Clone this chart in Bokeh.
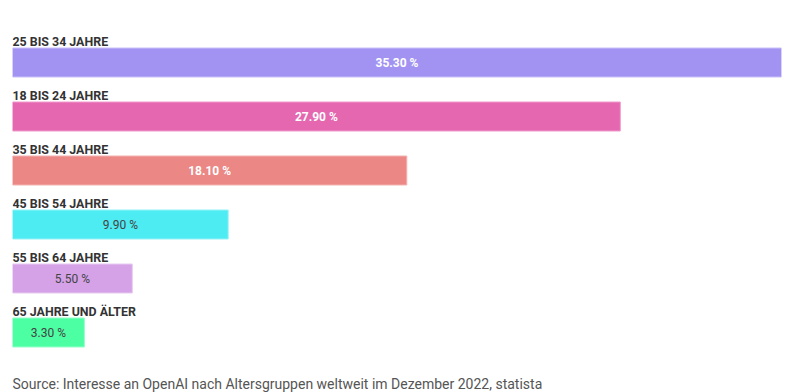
from bokeh.plotting import figure
from bokeh.models import Range1d, ColumnDataSource
from bokeh.core.properties import value
from bokeh.embed import file_html
from bokeh.resources import INLINE

categories = ["25 BIS 34 JAHRE", "18 BIS 24 JAHRE", "35 BIS 44 JAHRE",
              "45 BIS 54 JAHRE", "55 BIS 64 JAHRE", "65 JAHRE UND ÄLTER"]
shares = [35.3, 27.9, 18.1, 9.9, 5.5, 3.3]
value_labels = ["35.30 %", "27.90 %", "18.10 %", "9.90 %", "5.50 %", "3.30 %"]
bar_colors = ["#A293F3", "#E467B0", "#EB8785", "#4DEBF2", "#D5A2E8", "#4CFFA3"]
border_colors = ["#C9C0F8", "#F09BCB", "#F3B3B1", "#94F3F7", "#E7CBF1", "#94FFC8"]
label_colors = ["#FFFFFF", "#FFFFFF", "#FFFFFF", "#444444", "#444444", "#444444"]
label_styles = ["bold", "bold", "bold", "normal", "normal", "normal"]
source_text = "Source: Interesse an OpenAI nach Altersgruppen weltweit im Dezember 2022, statista"

W, H = 796, 392
TOP = 8
px_per_unit = 54.0
y_top = -1.0
y_bottom = y_top + (H - TOP) / px_per_unit

idx = list(range(len(categories)))
src = ColumnDataSource(dict(
    y=idx, right=shares, mid=[s / 2 for s in shares], cat=categories,
    vl=value_labels, fill=bar_colors, line=border_colors,
    lc=label_colors, ls=label_styles,
))

p = figure(width=W, height=H, output_backend="svg", toolbar_location=None,
           x_range=Range1d(0, 35.3), y_range=Range1d(y_bottom, y_top),
           min_border_left=12, min_border_right=15, min_border_top=TOP, min_border_bottom=0)
p.axis.visible = False
p.grid.visible = False
p.outline_line_color = None
p.background_fill_color = "white"
p.border_fill_color = "white"

p.hbar(y="y", left=0, right="right", height=29 / px_per_unit, source=src,
       fill_color="fill", line_color="line", line_width=1)

p.text(x=0, y="y", text="cat", source=src, y_offset=-21.5,
       text_font=value("Roboto"), text_font_style="bold", text_font_size="12.4px",
       text_color="#333333", text_baseline="alphabetic", text_align="left")

p.text(x="mid", y="y", text="vl", source=src, y_offset=0,
       text_font=value("Roboto"), text_font_style="ls", text_font_size="12px",
       text_color="lc", text_baseline="middle", text_align="center")

p.text(x=[0], y=[y_top + (383 - TOP) / px_per_unit], text=[source_text],
       text_font=value("Roboto"), text_font_size="14px", text_color="#555555",
       text_baseline="alphabetic", text_align="left")

open("out.html", "w").write(file_html(p, INLINE))
